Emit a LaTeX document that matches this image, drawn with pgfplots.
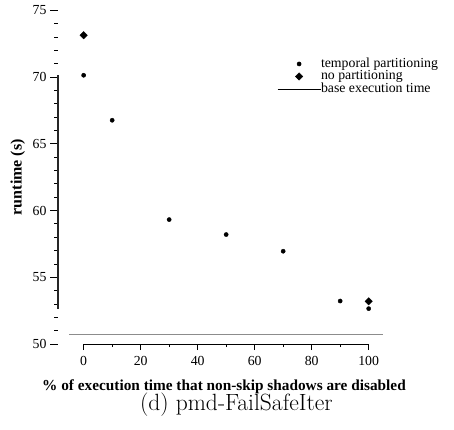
\documentclass[border=0pt]{standalone}
\usepackage{fontspec}
\usepackage{pgfplots}
\pgfplotsset{compat=1.18}
\newfontfamily\tnr{Liberation Serif}
\begin{document}
\begin{tikzpicture}
\pgfplotsset{
 common/.style={x=2.85pt, y=13.35pt, xmin=-9, xmax=105.2, ymin=50, ymax=75,
   axis line style={draw=none}, tick pos=left, tick align=outside, clip=false,
   tick style={black, line width=0.8pt},
   /pgf/number format/assume math mode=true,
   ticklabel style={font=\tnr\fontsize{13.8}{15}\selectfont}},
}
\begin{axis}[common, xtick={0,20,...,100}, minor x tick num=1, ytick=\empty,
  major tick length=6pt, minor tick length=3pt, xticklabel style={yshift=-3pt}]
\end{axis}
\begin{axis}[common, ytick={50,55,...,75}, minor y tick num=4, xtick=\empty,
  major tick length=8pt, minor tick length=4pt,
  legend image code/.code={\draw[mark repeat=2,mark phase=2] plot coordinates {(0pt,0pt) (21.5pt,0pt) (43pt,0pt)};},
  legend style={at={(axis description cs:0.6728,0.8584)}, anchor=north west, draw=none, fill=none,
    font=\tnr\fontsize{13.8}{15}\selectfont, inner sep=0pt, row sep=0pt,
    nodes={inner sep=0pt, text height=9.5pt, text depth=3pt}},
  legend cell align=left]
\addplot[only marks, mark=*, mark size=2.1pt, black] coordinates {
 (0,70.13) (10,66.76) (30,59.32) (50,58.2) (70,56.95) (90,53.22) (100,52.65)};
\addlegendentry{temporal partitioning}
\addplot[only marks, mark=square*, mark size=2.6pt, mark options={rotate=45}, black] coordinates {
 (0,73.13) (100,53.2)};
\addlegendentry{no partitioning}
\addplot[black!45, line width=1.3pt,
  legend image code/.code={\draw[black, line width=0.8pt] (0pt,0pt) -- (43pt,0pt);}] coordinates {(-5,50.7) (105,50.7)};
\addlegendentry{base execution time}
\draw[black!85, line width=1.2pt] (axis cs:-9,52.65) -- (axis cs:-9,70.13);
\draw[black, line width=1pt] (axis cs:0,50) -- (axis cs:100,50);
\node[rotate=90, anchor=base, font=\tnr\bfseries\fontsize{16}{18}\selectfont] at (axis description cs:-0.1115,0.5) {runtime (s)};
\node[anchor=base, font=\tnr\bfseries\fontsize{15.3}{17}\selectfont] at (axis description cs:0.51,-0.1378) {\% of execution time that non-skip shadows are disabled};
\node[anchor=base, font=\fontsize{23.5}{27}\selectfont] at (axis description cs:0.548,-0.1978) {(d) pmd-FailSafeIter};
\coordinate (bl) at (axis description cs:-0.1782,-0.2547);
\coordinate (tr) at (axis description cs:1.2166,1.0307);
\end{axis}
\pgfresetboundingbox
\useasboundingbox (bl) rectangle (tr);
\end{tikzpicture}
\end{document}
